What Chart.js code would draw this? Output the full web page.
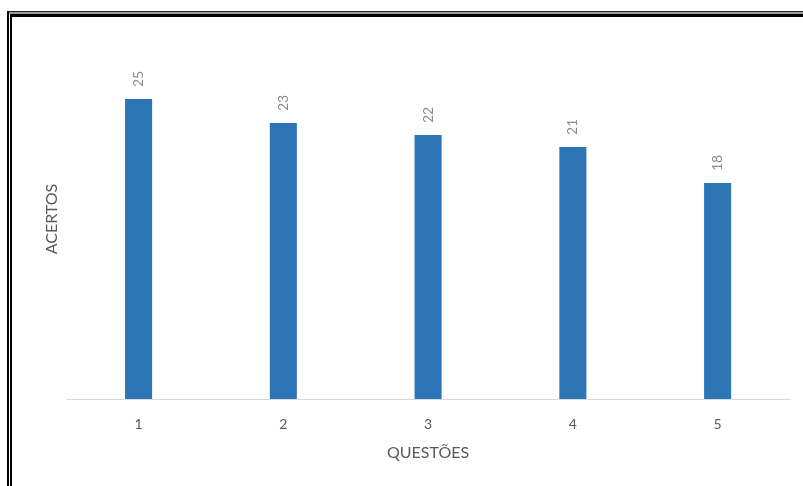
<!DOCTYPE html>
<html>
<head>
<meta charset="utf-8">
<script src="https://cdn.jsdelivr.net/npm/chart.js@4"></script>
<style>
  html, body { margin: 0; padding: 0; background: #fff; }
  #wrap { position: relative; width: 803px; height: 486px; }
  .ln { position: absolute; }
</style>
</head>
<body>
<div id="wrap">
  <canvas id="acertosChart" width="803" height="486"></canvas>
  <!-- moldura dupla do print -->
  <div class="ln" style="left:7px;top:11px;width:796px;height:1px;background:#222"></div>
  <div class="ln" style="left:9px;top:12px;width:794px;height:2px;background:#9a9a9a"></div>
  <div class="ln" style="left:10px;top:14px;width:793px;height:3px;background:#000"></div>
  <div class="ln" style="left:7px;top:11px;width:2px;height:475px;background:#000"></div>
  <div class="ln" style="left:10px;top:14px;width:2px;height:472px;background:#000"></div>
</div>
<script>
const questoes = ["1", "2", "3", "4", "5"];
const acertos = [25, 23, 22, 21, 18];
const fontFamily = "Lato, 'Open Sans', sans-serif";

// rótulos de dados girados acima das barras
const rotuloPlugin = {
    id: "rotulos",
    afterDatasetsDraw(chart) {
        const c = chart.ctx;
        const meta = chart.getDatasetMeta(0);
        c.save();
        c.fillStyle = "#8c8c8c";
        c.font = "14px " + fontFamily;
        c.textAlign = "left";
        c.textBaseline = "middle";
        meta.data.forEach((bar, i) => {
            c.save();
            c.translate(bar.x, bar.y - 12);
            c.rotate(-Math.PI / 2);
            c.fillText(String(acertos[i]), 0, 0);
            c.restore();
        });
        c.restore();
    }
};

new Chart(document.getElementById("acertosChart").getContext("2d"), {
    type: "bar",
    data: {
        labels: questoes,
        datasets: [{
            data: acertos,
            backgroundColor: "#2E75B6",
            barPercentage: 0.187,
            categoryPercentage: 1
        }]
    },
    options: {
        responsive: false,
        animation: false,
        layout: { padding: { top: 39, right: 13, bottom: 0, left: 0 } },
        plugins: {
            legend: { display: false },
            tooltip: { enabled: false }
        },
        scales: {
            x: {
                grid: { display: false, drawTicks: false },
                border: { display: true, color: "#d9d9d9", width: 1 },
                ticks: { color: "#595959", font: { family: fontFamily, size: 14, lineHeight: 1 }, padding: 18 },
                title: {
                    display: true,
                    text: "QUESTÕES",
                    color: "#595959",
                    font: { family: fontFamily, size: 16, lineHeight: 0.5 },
                    padding: { top: 0, bottom: 29 }
                }
            },
            y: {
                min: 0,
                max: 30,
                grid: { display: false, drawTicks: false },
                border: { display: false },
                ticks: { display: false },
                title: {
                    display: true,
                    text: "ACERTOS",
                    color: "#595959",
                    font: { family: fontFamily, size: 16 },
                    padding: { top: 42, bottom: 5 }
                }
            }
        }
    },
    plugins: [rotuloPlugin]
});
</script>
</body>
</html>
